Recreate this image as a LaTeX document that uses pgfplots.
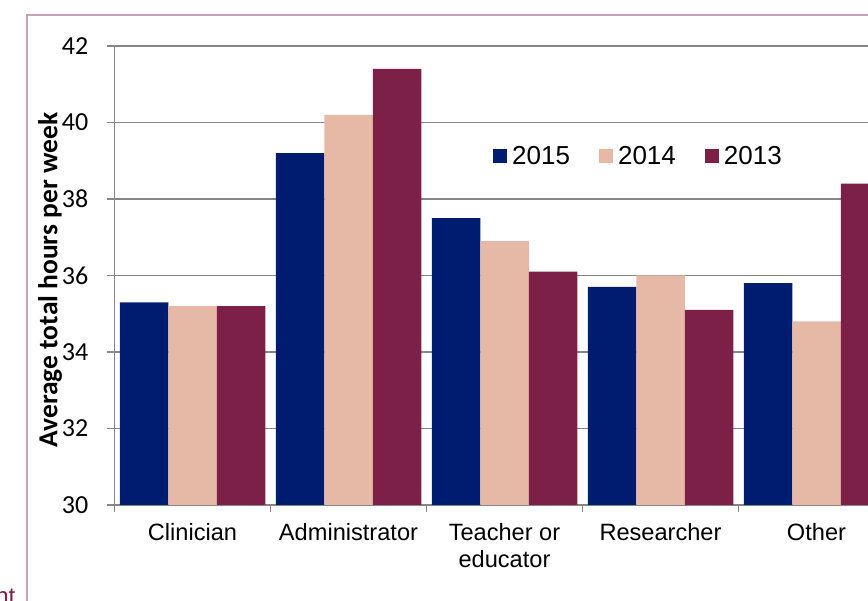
\documentclass[border=0pt]{standalone}
\usepackage{pgfplots}
\pgfplotsset{compat=1.18}
\usepackage{fontspec}
\setmainfont{Liberation Sans}
\newfontfamily\calfont{Carlito}
\definecolor{c15}{RGB}{0,28,112}
\definecolor{c14}{RGB}{230,185,166}
\definecolor{c13}{RGB}{124,32,72}
\definecolor{framec}{RGB}{205,160,185}
\definecolor{gridc}{RGB}{134,134,134}
\definecolor{textc}{RGB}{124,32,72}
\begin{document}
\begin{tikzpicture}
\begin{axis}[
  at={(114.5pt,96pt)}, anchor=south west,
  scale only axis, width=780pt, height=459pt,
  ybar=0pt, bar width=48.5pt,
  every axis plot post/.append style={legend image code/.code={\fill[##1,draw=none] (0pt,-7pt) rectangle (14pt,7pt);}},
  xmin=-0.5, xmax=4.5, ymin=30, ymax=42,
  axis lines*=left,
  axis line style={draw=gridc, line width=1.2pt, -},
  tick align=outside,
  major tick length=7pt,
  tick style={draw=gridc, line width=1.2pt},
  ytick={30,32,...,42},
  ymajorgrids,
  grid style={draw=gridc, line width=1.2pt},
  /pgf/number format/assume math mode=true,
  yticklabel style={font=\calfont\fontsize{26}{30}\selectfont, anchor=east, inner sep=0pt, xshift=-19pt},
  xtick={-0.5,0.5,...,4.5},
  xticklabels={},
  extra x ticks={0,1,2,3,4},
  extra x tick labels={Clinician,Administrator,{Teacher or\\educator},Researcher,Other},
  extra x tick style={major tick length=0pt, grid=none,
    xticklabel style={font=\fontsize{23.6}{27}\selectfont, align=center, inner sep=0pt, anchor=north, yshift=-18pt}},
  ylabel={Average total hours per week},
  ylabel style={font=\calfont\bfseries\fontsize{27.5}{30}\selectfont, at={(axis description cs:-0.0733,0.49)}, anchor=base},
  legend style={at={(0.4853,0.7603)}, anchor=west, draw=none, fill=none, inner sep=0pt,
    font=\fontsize{26}{30}\selectfont, legend columns=3,
    nodes={inner sep=0pt},
    /tikz/every odd column/.append style={column sep=5pt},
    /tikz/every even column/.append style={column sep=29pt}},
]
\addplot[fill=c15, draw=none] coordinates {(0,35.3) (1,39.2) (2,37.5) (3,35.7) (4,35.8)};
\addplot[fill=c14, draw=none] coordinates {(0,35.2) (1,40.2) (2,36.9) (3,36.0) (4,34.8)};
\addplot[fill=c13, draw=none] coordinates {(0,35.2) (1,41.4) (2,36.1) (3,35.1) (4,38.4)};
\legend{2015,2014,2013}
\end{axis}
\draw[framec, line width=1.5pt] (27pt,-10pt) -- (27pt,586pt) -- (900pt,586pt);
\node[anchor=base east, inner sep=0pt, text=textc, font=\fontsize{24}{28}\selectfont] at (15.5pt,-4pt) {nt};
\pgfresetboundingbox
\useasboundingbox (0pt,0pt) rectangle (868pt,601pt);
\end{tikzpicture}
\end{document}
